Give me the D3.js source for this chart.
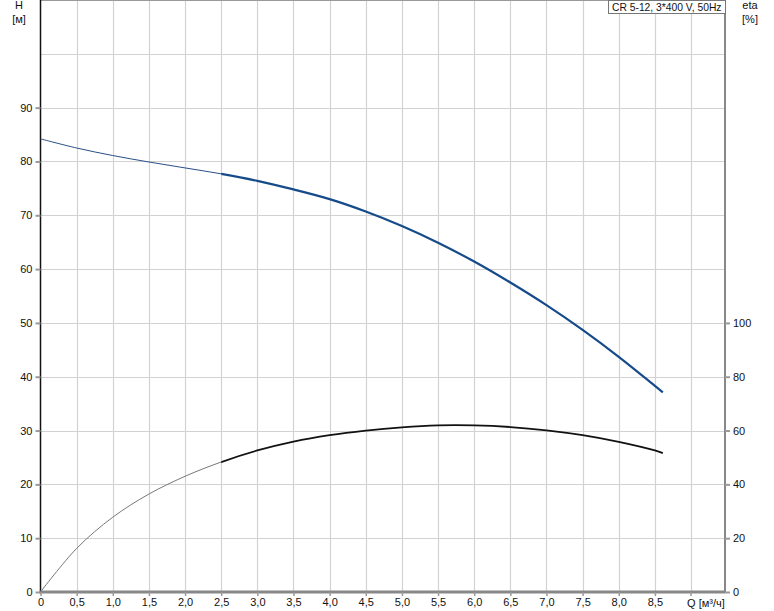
<!DOCTYPE html>
<html>
<head>
<meta charset="utf-8">
<script src="https://cdn.jsdelivr.net/npm/d3@7"></script>
<style>
  body { margin: 0; background: #fff; }
  text { font-family: "Liberation Sans", Arial, sans-serif; font-size: 11px; fill: #111; }
</style>
</head>
<body>
<div id="chart"></div>
<script>
// Flow points (Q, m³/h) shared by both curves
const flow = [0, 0.5, 1.0, 1.5, 2.0, 2.5, 3.0, 3.5, 4.0, 4.5, 5.0, 5.5, 6.0, 6.5, 7.0, 7.5, 8.0, 8.5, 8.61];
// Head (H, m)
const head = [84.2, 82.5, 81.1, 79.9, 78.8, 77.7, 76.4, 74.8, 73.0, 70.7, 68.0, 64.9, 61.4, 57.5, 53.3, 48.7, 43.7, 38.3, 37.1];
// Efficiency (eta, %)
const eta = [0, 16.2, 27.8, 36.4, 43.0, 48.3, 52.6, 55.9, 58.3, 60.0, 61.2, 61.9, 61.9, 61.3, 60.1, 58.3, 55.8, 52.6, 51.6];
// below this flow the curves are drawn thin
const thinUntil = 2.5;

const xTicks = [0, 0.5, 1, 1.5, 2, 2.5, 3, 3.5, 4, 4.5, 5, 5.5, 6, 6.5, 7, 7.5, 8, 8.5];
const xGrid = [0.5, 1, 1.5, 2, 2.5, 3, 3.5, 4, 4.5, 5, 5.5, 6, 6.5, 7, 7.5, 8, 8.5, 9];
const hTicks = [0, 10, 20, 30, 40, 50, 60, 70, 80, 90];
const hGrid = [10, 20, 30, 40, 50, 60, 70, 80, 90, 100];
const etaTicks = [0, 20, 40, 60, 80, 100];
const title = "CR 5-12, 3*400 V, 50Hz";

(() => {
  const width = 774, height = 611;
  const m = { left: 40.5, right: 725, top: 0, bottom: 592 };

  const svg = d3.select("#chart").append("svg")
    .attr("width", width).attr("height", height);

  const x = d3.scaleLinear().domain([0, 9.47]).range([m.left, m.right]);
  const y = d3.scaleLinear().domain([0, 110]).range([m.bottom, m.top]);
  const yEta = d3.scaleLinear().domain([0, 220]).range([m.bottom, m.top]);

  // clip regions for thin / thick parts
  const defs = svg.append("defs");
  defs.append("clipPath").attr("id", "thin").append("rect")
    .attr("x", 0).attr("y", 0).attr("width", x(thinUntil)).attr("height", height);
  defs.append("clipPath").attr("id", "thick").append("rect")
    .attr("x", x(thinUntil)).attr("y", 0).attr("width", width).attr("height", height);

  // grid
  svg.append("g").selectAll("line").data(xGrid).join("line")
    .attr("x1", d => Math.round(x(d)) + 0.5).attr("x2", d => Math.round(x(d)) + 0.5)
    .attr("y1", m.top).attr("y2", m.bottom)
    .attr("stroke", "#d2d2d2").attr("stroke-width", 1.2);
  svg.append("g").selectAll("line").data(hGrid).join("line")
    .attr("y1", d => Math.round(y(d)) + 0.5).attr("y2", d => Math.round(y(d)) + 0.5)
    .attr("x1", m.left).attr("x2", m.right)
    .attr("stroke", "#d2d2d2").attr("stroke-width", 1.2);

  // top border
  svg.append("line").attr("x1", m.left).attr("x2", m.right).attr("y1", 0.5).attr("y2", 0.5)
    .attr("stroke", "#999").attr("stroke-width", 1);

  // left axis
  const yAxis = svg.append("g").attr("transform", `translate(${m.left},0)`)
    .call(d3.axisLeft(y).tickValues(hTicks).tickSize(5).tickPadding(3).tickFormat(d3.format("d")));
  yAxis.select(".domain").attr("stroke", "#111").attr("stroke-width", 1.5).attr("d", `M0,${m.top}V${m.bottom}`);
  yAxis.selectAll(".tick line").attr("stroke", "#999").attr("stroke-width", 2);
  yAxis.selectAll("text").attr("font-size", null).attr("font-family", null).attr("fill", null);

  // right axis
  const rAxis = svg.append("g").attr("transform", `translate(${m.right},0)`)
    .call(d3.axisRight(yEta).tickValues(etaTicks).tickSize(5).tickPadding(3).tickFormat(d3.format("d")));
  rAxis.select(".domain").attr("stroke", "#888").attr("stroke-width", 2).attr("d", `M0,${m.top}V${m.bottom}`);
  rAxis.selectAll(".tick line").attr("stroke", "#999").attr("stroke-width", 2);
  rAxis.selectAll("text").attr("font-size", null).attr("font-family", null).attr("fill", null);

  // bottom axis
  const xAxis = svg.append("g").attr("transform", `translate(0,${m.bottom})`)
    .call(d3.axisBottom(x).tickValues(xTicks).tickSize(4).tickPadding(2)
      .tickFormat(d => d3.format(".1f")(d).replace(".", ",").replace(/^0,0$/, "0")));
  xAxis.select(".domain").attr("stroke", "#888").attr("stroke-width", 3).attr("d", `M${m.left - 1},0H${m.right}`);
  xAxis.selectAll(".tick line").attr("stroke", "#999").attr("stroke-width", 1.5);
  xAxis.selectAll("text").attr("font-size", null).attr("font-family", null).attr("fill", null);
  svg.append("line").attr("x1", x(9)).attr("x2", x(9)).attr("y1", m.bottom).attr("y2", m.bottom + 4)
    .attr("stroke", "#999").attr("stroke-width", 1.5);
  svg.append("text").attr("x", x(9) - 4).attr("y", 607).text("Q [м³/ч]");

  // axis titles
  svg.append("text").attr("x", 19).attr("y", 9).attr("text-anchor", "middle").text("H");
  svg.append("text").attr("x", 19).attr("y", 23).attr("text-anchor", "middle").text("[м]");
  svg.append("text").attr("x", 750).attr("y", 9).attr("text-anchor", "middle").text("eta");
  svg.append("text").attr("x", 750).attr("y", 23).attr("text-anchor", "middle").text("[%]");

  // title box
  const tb = svg.append("g");
  tb.append("rect").attr("x", 608.5).attr("y", 0.5).attr("width", 117).attr("height", 13)
    .attr("fill", "#fff").attr("stroke", "#777");
  tb.append("text").attr("x", 612).attr("y", 11).style("font-size", "10.3px").text(title);

  // curves
  const lineH = d3.line().x(d => x(d[0])).y(d => y(d[1])).curve(d3.curveCatmullRom);
  const lineE = d3.line().x(d => x(d[0])).y(d => yEta(d[1])).curve(d3.curveCatmullRom);
  const headPts = d3.zip(flow, head);
  const etaPts = d3.zip(flow, eta);

  svg.append("path").datum(headPts).attr("d", lineH).attr("clip-path", "url(#thin)")
    .attr("fill", "none").attr("stroke", "#2a4f86").attr("stroke-width", 1);
  svg.append("path").datum(headPts).attr("d", lineH).attr("clip-path", "url(#thick)")
    .attr("fill", "none").attr("stroke", "#164b8a").attr("stroke-width", 2.2);

  svg.append("path").datum(etaPts).attr("d", lineE).attr("clip-path", "url(#thin)")
    .attr("fill", "none").attr("stroke", "#777").attr("stroke-width", 1);
  svg.append("path").datum(etaPts).attr("d", lineE).attr("clip-path", "url(#thick)")
    .attr("fill", "none").attr("stroke", "#111").attr("stroke-width", 1.8);
})();
</script>
</body>
</html>
